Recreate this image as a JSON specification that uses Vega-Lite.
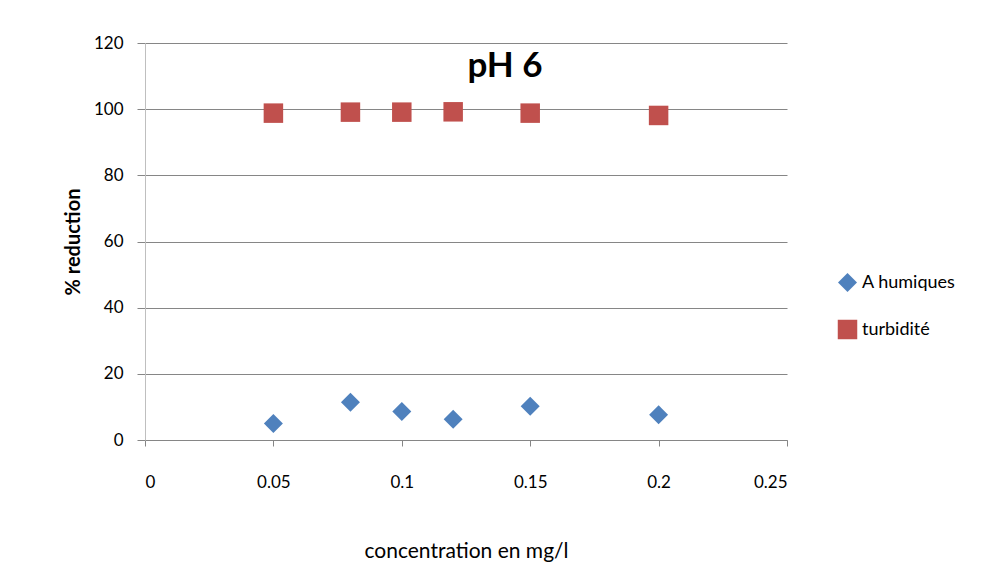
{
  "$schema": "https://vega.github.io/schema/vega-lite/v6.json",
  "width": 642,
  "height": 397,
  "autosize": {"type": "none"},
  "padding": {"left": 145, "top": 43, "right": 200, "bottom": 144},
  "background": "white",
  "title": {
    "text": "pH 6",
    "font": "Lato",
    "fontSize": 35,
    "fontWeight": "bold",
    "color": "#000000",
    "anchor": "middle",
    "frame": "group",
    "offset": -50,
    "dx": 39
  },
  "data": {
    "values": [
      {"c": 0.05, "v": 5.0, "s": "A humiques"},
      {"c": 0.08, "v": 11.4, "s": "A humiques"},
      {"c": 0.10, "v": 8.6, "s": "A humiques"},
      {"c": 0.12, "v": 6.3, "s": "A humiques"},
      {"c": 0.15, "v": 10.2, "s": "A humiques"},
      {"c": 0.20, "v": 7.6, "s": "A humiques"},
      {"c": 0.05, "v": 98.8, "s": "turbidité"},
      {"c": 0.08, "v": 99.1, "s": "turbidité"},
      {"c": 0.10, "v": 99.1, "s": "turbidité"},
      {"c": 0.12, "v": 99.2, "s": "turbidité"},
      {"c": 0.15, "v": 98.8, "s": "turbidité"},
      {"c": 0.20, "v": 98.1, "s": "turbidité"}
    ]
  },
  "mark": {"type": "point", "filled": true, "opacity": 1, "size": 300},
  "encoding": {
    "x": {
      "field": "c",
      "type": "quantitative",
      "scale": {"domain": [0, 0.25], "nice": false, "zero": true},
      "axis": {
        "values": [0, 0.05, 0.1, 0.15, 0.2, 0.25],
        "labelExpr": "datum.value == 0 ? '0' : format(datum.value, '.2~f')",
        "title": "concentration en mg/l",
        "grid": false,
        "domainColor": "#868686",
        "tickColor": "#868686",
        "tickSize": 6,
        "labelPadding": 28,
        "labelFont": "Lato",
        "labelFontSize": 17,
        "labelColor": "#000000",
        "titleFont": "Lato",
        "titleFontSize": 21,
        "titleFontWeight": "normal",
        "titleColor": "#000000",
        "titlePadding": 50
      }
    },
    "y": {
      "field": "v",
      "type": "quantitative",
      "scale": {"domain": [0, 120], "nice": false},
      "axis": {
        "values": [0, 20, 40, 60, 80, 100, 120],
        "title": "% reduction",
        "grid": true,
        "gridColor": "#868686",
        "gridWidth": 1,
        "domainColor": "#BFBFBF",
        "tickColor": "#868686",
        "tickSize": 8,
        "labelPadding": 14,
        "labelFont": "Lato",
        "labelFontSize": 17,
        "labelColor": "#000000",
        "titleFont": "Lato",
        "titleFontSize": 20,
        "titleFontWeight": "bold",
        "titleColor": "#000000",
        "titlePadding": 10
      }
    },
    "color": {
      "field": "s",
      "type": "nominal",
      "scale": {"domain": ["A humiques", "turbidité"], "range": ["#4F81BD", "#C0504D"]},
      "legend": {
        "title": null,
        "orient": "none",
        "legendX": 692,
        "legendY": 229,
        "labelFont": "Lato",
        "labelFontSize": 18,
        "labelColor": "#000000",
        "symbolSize": 170,
        "rowPadding": 27,
        "labelOffset": 4,
        "symbolOpacity": 1
      }
    },
    "shape": {
      "field": "s",
      "type": "nominal",
      "scale": {"domain": ["A humiques", "turbidité"], "range": ["diamond", "square"]},
      "legend": null
    },
    "size": {
      "field": "s",
      "type": "nominal",
      "scale": {"domain": ["A humiques", "turbidité"], "range": [360, 380]},
      "legend": null
    }
  },
  "config": {
    "view": {"stroke": null}
  }
}
